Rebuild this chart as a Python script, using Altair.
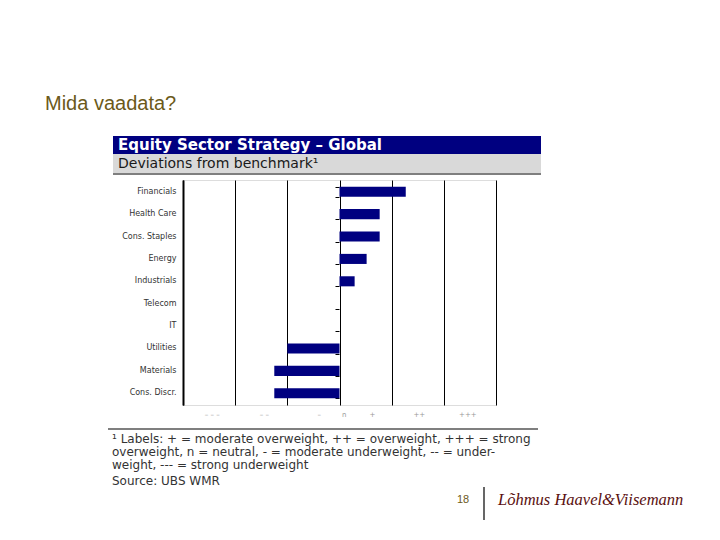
import altair as alt
import pandas as pd

# ---- data ----
sectors = ["Financials", "Health Care", "Cons. Staples", "Energy", "Industrials",
           "Telecom", "IT", "Utilities", "Materials", "Cons. Discr."]
deviation = [1.27, 0.77, 0.77, 0.52, 0.29, 0.0, 0.0, -1.0, -1.25, -1.25]

grid_values = [-3, -2, -1, 0, 1, 2, 3]
label_values = [-2.45, -1.45, -0.4, 0.08, 0.62, 1.52, 2.45]
label_texts = ["– – –", "– –", "–", "n", "+", "++", "+++"]

page_title = "Mida vaadata?"
header_title = "Equity Sector Strategy – Global"
header_sub = "Deviations from benchmark¹"
footnote_lines = [
    "¹ Labels: + = moderate overweight, ++ = overweight, +++ = strong",
    "overweight, n = neutral, - = moderate underweight, -- = under-",
    "weight, --- = strong underweight",
    "Source: UBS WMR",
]
page_number = "18"
logo_text = "Lõhmus Haavel&Viisemann"

df = pd.DataFrame({"sector": sectors, "dev": deviation})

# ---- axis helpers ----
all_values = sorted(set(grid_values) | set(label_values))
label_expr = "''"
for v, t in reversed(list(zip(label_values, label_texts))):
    label_expr = f"datum.value == {v} ? '{t}' : ({label_expr})"
grid_test = " || ".join(f"datum.value == {g}" for g in grid_values)

y_enc = alt.Y(
    "sector:N", sort=sectors, title=None,
    scale=alt.Scale(paddingInner=0.55, paddingOuter=0.3),
    axis=alt.Axis(labelFont="DejaVu Sans", labelFontSize=8, labelColor="#333333",
                  ticks=False, labelPadding=7, domain=True, domainColor="black",
                  domainWidth=2, grid=False),
)

bars = alt.Chart(df).mark_bar(color="#000080").encode(
    x=alt.X("dev:Q", title=None,
            scale=alt.Scale(domain=[-3, 3], nice=False, zero=False),
            axis=alt.Axis(values=all_values, labelExpr=label_expr, domain=False,
                          ticks=False, tickSize=0, labelPadding=5,
                          labelFont="DejaVu Sans", labelFontSize=7,
                          labelColor="#999999", grid=True, gridColor="black",
                          gridWidth=1,
                          gridOpacity={"condition": {"test": grid_test, "value": 1},
                                       "value": 0})),
    y=y_enc,
)

zero_ticks = alt.Chart(df).mark_point(opacity=0).encode(
    y=alt.Y("sector:N", sort=sectors, title=None,
            axis=alt.Axis(orient="left", offset=-156, labels=False, domain=False,
                          ticks=True, tickSize=4, tickBand="extent",
                          tickColor="black", grid=False)),
)

one = pd.DataFrame({"k": [0]})


def rect(x1, x2, y1, y2, color):
    return alt.Chart(one).mark_rect(color=color).encode(
        x=alt.value(x1), x2=alt.value(x2), y=alt.value(y1), y2=alt.value(y2))


def rule(x1, x2, y1, y2, width=1, color="black"):
    return alt.Chart(one).mark_rule(color=color, strokeWidth=width).encode(
        x=alt.value(x1), x2=alt.value(x2), y=alt.value(y1), y2=alt.value(y2))


def text(t, x, y, size, color, font="DejaVu Sans", weight="normal",
         baseline="middle", align="left", style="normal"):
    return alt.Chart(one).mark_text(
        text=t, fontSize=size, color=color, font=font, fontWeight=weight,
        baseline=baseline, align=align, fontStyle=style).encode(
        x=alt.value(x), y=alt.value(y))


layers = [
    rect(-70, 358, -44, -26, "#000080"),
    rect(-70, 358, -26, -7, "#d9d9d9"),
    rule(-70, 358, -6, -6, 1.2),
    text(header_title, -65, -35, 15, "white", weight="bold"),
    text(header_sub, -65, -16, 14, "#1a1a1a"),
    text(page_title, -138, -70, 20, "#6b5a1a", font="Liberation Sans",
         baseline="alphabetic"),
    bars,
    zero_ticks,
    rule(-75, 355, 249, 249, 1.2),
]
for i, line in enumerate(footnote_lines):
    yy = [259, 272, 285, 301][i]
    layers.append(text(line, -71, yy, 12, "#333333"))

layers += [
    text(page_number, 280, 320, 11, "#6b5a1a", font="Liberation Sans", align="center"),
    rule(301, 301, 307, 340, 1.2),
    text(logo_text, 315, 320, 16.5, "#5a1010", font="Liberation Serif",
         style="italic"),
]

chart = alt.layer(*layers).resolve_axis(y="independent").properties(
    width=313, height=225,
    autosize=alt.AutoSizeParams(type="none"),
    padding={"left": 175, "top": 172, "right": 214, "bottom": 120},
).configure_view(stroke=None).configure(background="white")

chart.save("out.html", embed_options={"renderer": "svg", "actions": False})
